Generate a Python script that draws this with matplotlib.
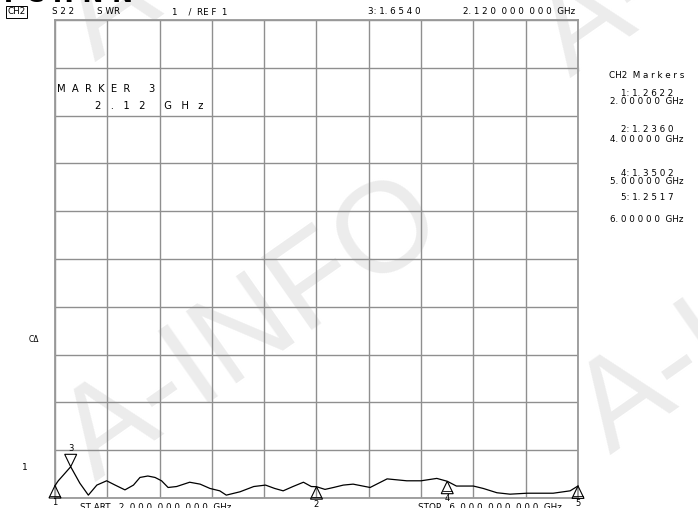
import numpy as np
import matplotlib.pyplot as plt
from matplotlib.patches import Polygon

# trace (GHz, SWR)
freq = [2.0, 2.025, 2.064, 2.12, 2.19, 2.255, 2.32, 2.395, 2.46, 2.535, 2.60,
        2.65, 2.71, 2.765, 2.815, 2.865, 2.93, 3.03, 3.11, 3.185, 3.26, 3.31,
        3.415, 3.52, 3.61, 3.68, 3.745, 3.82, 3.90, 3.96, 4.0, 4.065, 4.13,
        4.205, 4.28, 4.41, 4.54, 4.69, 4.80, 4.92, 5.0, 5.07, 5.20, 5.275,
        5.38, 5.48, 5.61, 5.81, 5.94, 6.0]
swr = [1.26, 1.36, 1.48, 1.654, 1.31, 1.06, 1.27, 1.36, 1.27, 1.17, 1.27,
       1.43, 1.46, 1.43, 1.36, 1.22, 1.24, 1.33, 1.29, 1.20, 1.15, 1.06,
       1.13, 1.24, 1.27, 1.20, 1.15, 1.24, 1.33, 1.24, 1.236, 1.18, 1.22,
       1.27, 1.29, 1.22, 1.40, 1.36, 1.36, 1.41, 1.35, 1.25, 1.25, 1.20,
       1.11, 1.08, 1.10, 1.10, 1.15, 1.2517]

marker_ids = ['1', '2', '3', '4', '5']
marker_freq = [2.0, 4.0, 2.12, 5.0, 6.0]
marker_swr = [1.2622, 1.2360, 1.6540, 1.3502, 1.2517]

W, H = 698, 508
fig = plt.figure(figsize=(W / 100, H / 100), dpi=100)
ax = fig.add_axes([55 / W, 10 / H, 523 / W, 478 / H])
ax.set_facecolor('none')

def px(x, y):
    return x / W, 1 - y / H

FONT = 'DejaVu Sans'
GRID = '#8f8f8f'

# watermark (behind the graticule)
wm = dict(color='#ececec', fontsize=92, rotation=35, rotation_mode='anchor',
          ha='left', va='baseline', zorder=-5, family='Liberation Sans')
for (x, y) in [(95, 482), (610, 455), (95, 62), (570, 78)]:
    fig.text(*px(x, y), 'A-INFO', **wm)

# graticule
ax.set_xlim(2, 6)
ax.set_ylim(1, 11)
ax.set_xticks(np.linspace(2, 6, 11))
ax.set_yticks(np.arange(1, 12))
ax.tick_params(length=0, labelbottom=False, labelleft=False)
ax.grid(True, color=GRID, lw=1.0)
for s in ax.spines.values():
    s.set_color('#999999')
    s.set_linewidth(1.3)

ax.plot(freq, swr, color='black', lw=0.9, clip_on=False, zorder=5)

# marker triangles
tri_w, tri_h = 0.046, 0.26
for mid, f, v in zip(marker_ids, marker_freq, marker_swr):
    if mid == '3':
        pts = [(f, v), (f - tri_w, v + tri_h), (f + tri_w, v + tri_h)]
        ax.text(f, v + tri_h + 0.02, mid, ha='center', va='bottom',
                fontsize=6, family=FONT)
    else:
        yv = np.interp(f, freq, swr)
        pts = [(f, yv), (f - tri_w, yv - tri_h), (f + tri_w, yv - tri_h)]
        ax.plot([f - tri_w * 0.75, f + tri_w * 0.75],
                [yv - tri_h * 0.8] * 2, color='black', lw=0.6, clip_on=False,
                zorder=6)
        ax.text(f, yv - tri_h - 0.01, mid, ha='center', va='top',
                fontsize=6, family=FONT, clip_on=False)
    ax.add_patch(Polygon(pts, closed=True, fill=False, ec='black', lw=0.8,
                         clip_on=False, zorder=6))

# header line (the big bold title is cut by the top edge)
small = dict(fontsize=6.3, family=FONT, va='center')
fig.text(*px(0, 1.5), 'T C H N N', fontsize=18, fontweight='bold',
         family=FONT, va='baseline')
fig.text(*px(7, 12), 'CH2', bbox=dict(boxstyle='square,pad=0.15', fc='white',
         ec='black', lw=0.7), **small)
fig.text(*px(52, 12), 'S 2 2', **small)
fig.text(*px(97, 12), 'S WR', **small)
fig.text(*px(172, 12), '1    /  RE F  1', **small)
fig.text(*px(368, 12), '3: 1. 6 5 4 0', **small)
fig.text(*px(463, 12), '2. 1 2 0  0 0 0  0 0 0  GHz', **small)

# active marker readout
big = dict(fontsize=7.2, family=FONT, va='center')
fig.text(*px(57, 89), 'M  A  R  K  E  R      3', **big)
fig.text(*px(95, 106), '2   .   1   2      G   H   z', **big)

# marker table on the right
tbl = [('CH2  M a r k e r s', 75), ('1: 1. 2 6 2 2', 94),
       ('2. 0 0 0 0 0  GHz', 102), ('2: 1. 2 3 6 0', 130),
       ('4. 0 0 0 0 0  GHz', 139), ('4: 1. 3 5 0 2', 173),
       ('5. 0 0 0 0 0  GHz', 182), ('5: 1. 2 5 1 7', 198),
       ('6. 0 0 0 0 0  GHz', 220)]
for s, y in tbl:
    fig.text(*px(647, y), s, ha='center', **small)

# left side annotations
fig.text(*px(29, 340), 'C\u0394', fontsize=5.5, family=FONT, va='center')
fig.text(*px(22, 467), '1', fontsize=6.5, family=FONT, va='center')

# start / stop (cut by the lower edge)
fig.text(*px(80, 507), 'ST ART   2. 0 0 0  0 0 0  0 0 0  GHz', **small)
fig.text(*px(418, 507), 'STOP   6. 0 0 0  0 0 0  0 0 0  GHz', **small)

fig.savefig('out.png', dpi=100)
